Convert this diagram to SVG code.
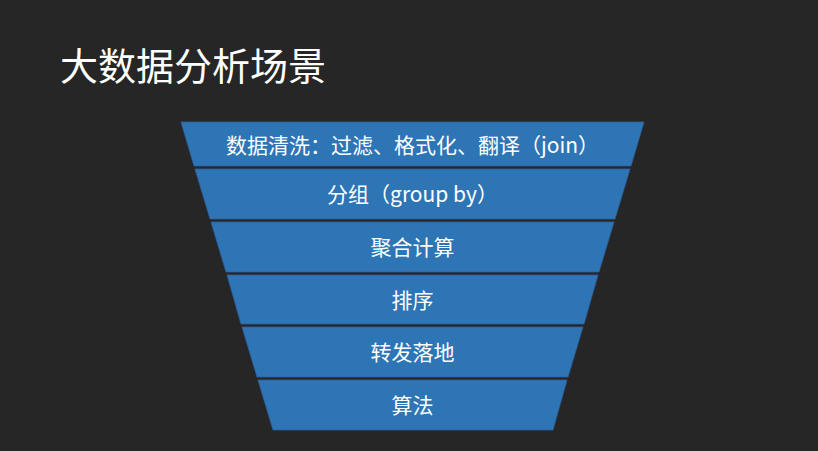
<svg xmlns="http://www.w3.org/2000/svg" width="818" height="451" viewBox="0 0 818 451">
<style>
.band{fill:#2E75B6;stroke:#2F5F9E;stroke-width:0.8}
.lbl{font-family:"Noto Sans CJK SC","Noto Sans",sans-serif;font-size:21px;fill:#FFFFFF;text-anchor:middle;dominant-baseline:central}
.title{font-family:"Noto Sans CJK SC","Noto Sans",sans-serif;font-size:38px;fill:#FFFFFF}
</style>
<rect x="0" y="0" width="818" height="451" fill="#262626"/>
<text class="title" x="60" y="80">大数据分析场景</text>
<g id="band1"><polygon class="band" points="181,122 644,122 631,166 194,166"/><text class="lbl" x="412.5" y="144">数据清洗：过滤、格式化、翻译（join）</text></g>
<g id="band2"><polygon class="band" points="195,169 630,169 615,219 210,219"/><text class="lbl" x="412.5" y="193">分组（group by）</text></g>
<g id="band3"><polygon class="band" points="211,222 614,222 599,272 226,272"/><text class="lbl" x="412.5" y="246">聚合计算</text></g>
<g id="band4"><polygon class="band" points="227,275 598,275 584,324 241,324"/><text class="lbl" x="412.5" y="299">排序</text></g>
<g id="band5"><polygon class="band" points="242,327 583,327 568,377 257,377"/><text class="lbl" x="412.5" y="351">转发落地</text></g>
<g id="band6"><polygon class="band" points="258,380 567,380 553,430 273,430"/><text class="lbl" x="412.5" y="404">算法</text></g>
<g id="connectors"></g>
</svg>
